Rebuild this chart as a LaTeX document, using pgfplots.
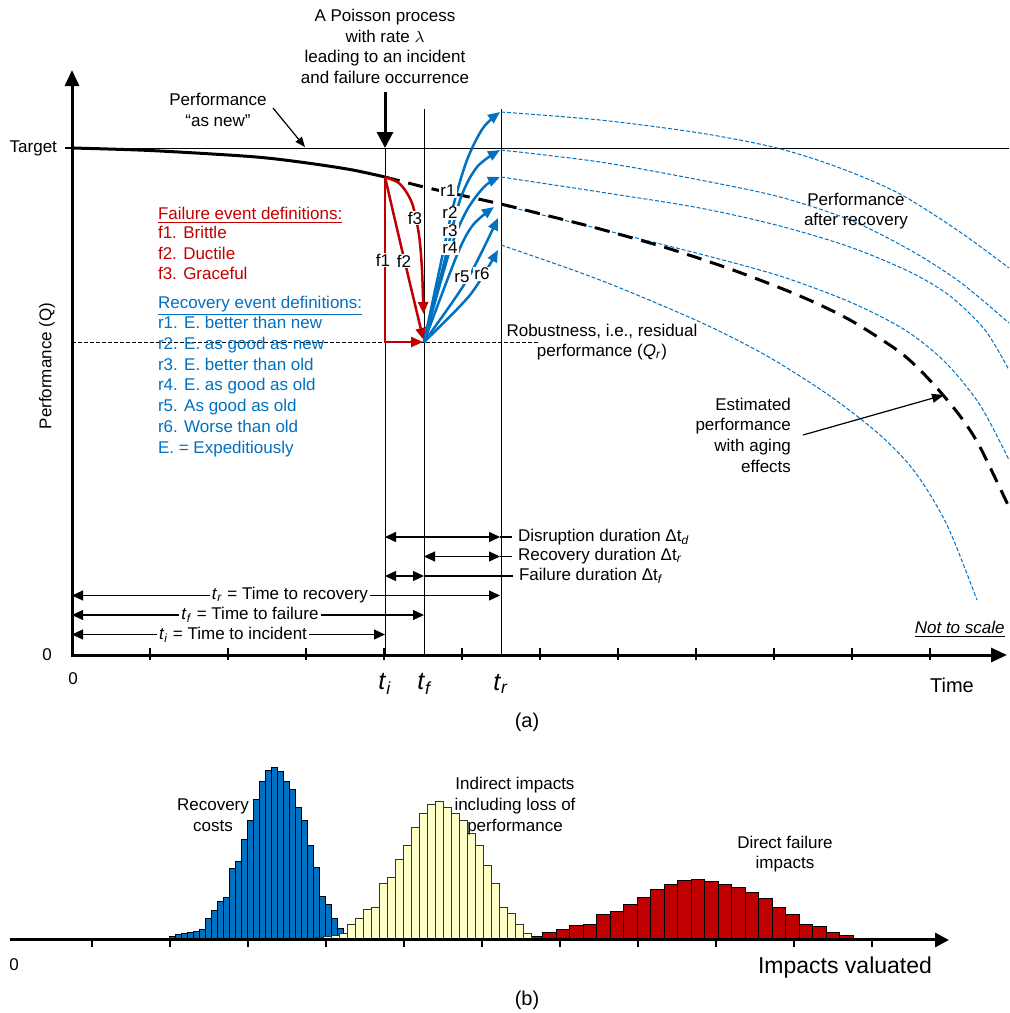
\documentclass[border=0pt]{standalone}
\usepackage{pgfplots}
\pgfplotsset{compat=1.18}
\usepackage{fontspec}
\setmainfont{Liberation Sans}
\usetikzlibrary{arrows.meta}
\definecolor{fred}{HTML}{C00000}
\definecolor{rblue}{HTML}{0070C0}
\definecolor{hyel}{HTML}{FFFFC8}
\begin{document}
\begin{tikzpicture}[font=\fontsize{8.5}{10.35}\selectfont,
  >={Triangle[length=5.5pt,width=5pt]}]
\useasboundingbox (0,0) rectangle (504.5pt,506.5pt);
% ---------------- panel (a), pixel coordinates ----------------
\begin{axis}[at={(0,0)},anchor=south west,scale only axis,width=504.5pt,height=506.5pt,
 xmin=0,xmax=1009,ymin=0,ymax=1013,y dir=reverse,hide axis,clip=false]
% reference lines
\draw[line width=0.5pt] (axis cs:72,148) -- (axis cs:1009,148);
\draw[line width=0.5pt] (axis cs:385,148) -- (axis cs:385,655);
\draw[line width=0.5pt] (axis cs:424,109) -- (axis cs:424,655);
\draw[line width=0.5pt] (axis cs:501,109) -- (axis cs:501,655);
\draw[line width=0.5pt,dash pattern=on 2pt off 1pt] (axis cs:72,342) -- (axis cs:538,342);
% blue dashed performance after recovery
\addplot[rblue,line width=0.5pt,dash pattern=on 2pt off 1pt,smooth] coordinates {(501,112)(600,120)(700,133)(777,148)(840,168)(900,194)(960,232)(1009,268)};
\addplot[rblue,line width=0.5pt,dash pattern=on 2pt off 1pt,smooth] coordinates {(501,150)(600,162)(700,180)(780,197)(850,220)(910,250)(960,282)(1009,323)};
\addplot[rblue,line width=0.5pt,dash pattern=on 2pt off 1pt,smooth] coordinates {(501,177)(600,192)(700,208)(780,226)(850,247)(910,272)(950,296)(985,330)(1009,370)};
\addplot[rblue,line width=0.5pt,dash pattern=on 2pt off 1pt,smooth] coordinates {(501,205)(600,229)(700,254)(780,276)(850,302)(905,330)(945,362)(980,405)(1009,460)};
\addplot[rblue,line width=0.5pt,dash pattern=on 2pt off 1pt,smooth] coordinates {(501,245)(600,280)(700,322)(767,356)(830,396)(880,435)(915,472)(947,525)(977,600)};
% performance as new and aging
\addplot[black,line width=1.5pt,smooth] coordinates {(72,148)(150,150.5)(250,156.5)(300,162)(350,169.5)(385,177)};
\addplot[black,line width=1.5pt,smooth,dash pattern=on 7.5pt off 4.5pt] coordinates {(385,177)(424,187)(460,195)(505,205)(553,217)(600,229)(667,248)(733,270)(800,296)(850,320)(897,350)(920,370)(943,395)(963,420)(980,447)(1008,505)};
% failure paths
\addplot[fred,line width=1.25pt,-{Triangle[length=6pt,width=5pt]}] coordinates {(385,177)(385,342)(423,342)};
\addplot[fred,line width=1.25pt,smooth,-{Triangle[length=6pt,width=5pt]}] coordinates {(385,177)(402,250)(423.5,340)};
\addplot[fred,line width=1.25pt,smooth,-{Triangle[length=6pt,width=5pt]}] coordinates {(385,177)(400,184)(412,203)(419,235)(422,270)(423.5,314)};
% recovery paths
\addplot[rblue,line width=1.25pt,smooth,-{Triangle[length=6pt,width=5pt]}] coordinates {(424,342)(440,267)(453,207)(467,160)(483,128)(500,112)};
\addplot[rblue,line width=1.25pt,smooth,-{Triangle[length=6pt,width=5pt]}] coordinates {(424,342)(443,267)(460,200)(477,167)(500,150)};
\addplot[rblue,line width=1.25pt,smooth,-{Triangle[length=6pt,width=5pt]}] coordinates {(424,342)(450,250)(467,210)(485,186)(500,177)};
\addplot[rblue,line width=1.25pt,smooth,-{Triangle[length=6pt,width=5pt]}] coordinates {(424,342)(457,255)(473,225)(494,207)};
\addplot[rblue,line width=1.25pt,smooth,-{Triangle[length=6pt,width=5pt]}] coordinates {(424,342)(467,280)(498,218)};
\addplot[rblue,line width=1.25pt,smooth,-{Triangle[length=6pt,width=5pt]}] coordinates {(424,342)(470,295)(498,250)};
% labels on paths
\node[fill=white,inner sep=0.6pt] at (axis cs:383,260) {f1};
\node[fill=white,inner sep=0.6pt] at (axis cs:404,261) {f2};
\node[fill=white,inner sep=0.6pt] at (axis cs:415,218) {f3};
\node[fill=white,inner sep=0.6pt] at (axis cs:448,191) {r1};
\node[fill=white,inner sep=0.6pt] at (axis cs:450,213) {r2};
\node[fill=white,inner sep=0.6pt] at (axis cs:450,231) {r3};
\node[fill=white,inner sep=0.6pt] at (axis cs:450,248) {r4};
\node[fill=white,inner sep=0.6pt] at (axis cs:462,277) {r5};
\node[fill=white,inner sep=0.6pt] at (axis cs:482,274) {r6};
% axes
\draw[line width=1.5pt,-{Triangle[length=8pt,width=7pt]}] (axis cs:72,656) -- (axis cs:72,70);
\draw[line width=1.5pt,-{Triangle[length=8pt,width=7pt]}] (axis cs:71,655) -- (axis cs:1007,655);
\pgfplotsinvokeforeach{150,228,306,384,462,540,618,696,774,852,930}{\draw[line width=0.6pt] (axis cs:#1,648) -- (axis cs:#1,660);}
\draw[line width=0.6pt] (axis cs:65,148) -- (axis cs:72,148);
\node[anchor=east] at (axis cs:64,148) {Target};
\node at (axis cs:47,655) {0};
\node at (axis cs:73,679) {0};
\node[rotate=90] at (axis cs:47,366) {Performance (Q)};
% Poisson arrow
\node[align=center] at (axis cs:385,46.5) {A Poisson process\\with rate $\lambda$\\leading to an incident\\and failure occurrence};
\draw[line width=1.5pt,-{Triangle[length=8pt,width=8pt]}] (axis cs:385,92) -- (axis cs:385,148);
\node[align=center] at (axis cs:218,110) {Performance\\“as new”};
\draw[line width=0.6pt,-{Triangle[length=5pt,width=4pt]}] (axis cs:273,108) -- (axis cs:305,147);
% definitions
\node[anchor=base west,text=fred] at (axis cs:151,219) {\underline{Failure event definitions:}};
\node[anchor=base west,text=fred] at (axis cs:151,238) {f1. Brittle};
\node[anchor=base west,text=fred] at (axis cs:151,259) {f2. Ductile};
\node[anchor=base west,text=fred] at (axis cs:151,279) {f3. Graceful};
\node[anchor=base west,text=rblue] at (axis cs:151,308) {\underline{Recovery event definitions:}};
\node[anchor=base west,text=rblue] at (axis cs:151,328) {r1. E. better than new};
\node[anchor=base west,text=rblue] at (axis cs:151,349) {r2. E. as good as new};
\node[anchor=base west,text=rblue] at (axis cs:151,370) {r3. E. better than old};
\node[anchor=base west,text=rblue] at (axis cs:151,390) {r4. E. as good as old};
\node[anchor=base west,text=rblue] at (axis cs:151,411) {r5. As good as old};
\node[anchor=base west,text=rblue] at (axis cs:151,432) {r6. Worse than old};
\node[anchor=base west,text=rblue] at (axis cs:151,453) {E. = Expeditiously};
% annotations
\node[align=center] at (axis cs:602,342) {Robustness, i.e., residual\\performance (\textit{Q}\textsubscript{\textit{r}})};
\node[align=center] at (axis cs:856,211) {Performance\\after recovery};
\node[align=right,anchor=east] at (axis cs:798,435) {Estimated\\performance\\with aging\\effects};
\draw[line width=0.6pt,-{Triangle[length=6pt,width=4.5pt]}] (axis cs:803,435) -- (axis cs:944,395);
\node[anchor=east,inner sep=0pt] at (axis cs:1005,629) {\underline{\textit{Not to scale}}};
% durations
\draw[<->,line width=0.6pt] (axis cs:385,537) -- (axis cs:500,537);
\draw[line width=0.6pt] (axis cs:500,537) -- (axis cs:512,537);
\node[anchor=west] at (axis cs:511,537) {Disruption duration Δt\textsubscript{\textit{d}}};
\draw[<->,line width=0.6pt] (axis cs:424,556.5) -- (axis cs:500,556.5);
\draw[line width=0.6pt] (axis cs:500,556.5) -- (axis cs:512,556.5);
\node[anchor=west] at (axis cs:511,556.5) {Recovery duration Δt\textsubscript{\textit{r}}};
\draw[<->,line width=0.6pt] (axis cs:385,576) -- (axis cs:424,576);
\draw[line width=0.6pt] (axis cs:424,576) -- (axis cs:513,576);
\node[anchor=west] at (axis cs:512,576) {Failure duration Δt\textsubscript{\textit{f}}};
\draw[<->,line width=0.6pt] (axis cs:72,595.5) -- (axis cs:500,595.5);
\node[fill=white,inner sep=1pt] at (axis cs:290,595.5) {\textit{t}\textsubscript{\textit{r}} = Time to recovery};
\draw[<->,line width=0.6pt] (axis cs:72,615) -- (axis cs:424,615);
\node[fill=white,inner sep=1pt] at (axis cs:250,615) {\textit{t}\textsubscript{\textit{f}} = Time to failure};
\draw[<->,line width=0.6pt] (axis cs:72,634.5) -- (axis cs:385,634.5);
\node[fill=white,inner sep=1pt] at (axis cs:233,634.5) {\textit{t}\textsubscript{\textit{i}} = Time to incident};
% time labels
\node at (axis cs:385,684) {\fontsize{12.5}{14}\selectfont\textit{t}\textsubscript{\textit{i}}};
\node at (axis cs:425,684) {\fontsize{12.5}{14}\selectfont\textit{t}\textsubscript{\textit{f}}};
\node at (axis cs:501,684) {\fontsize{12.5}{14}\selectfont\textit{t}\textsubscript{\textit{r}}};
\node at (axis cs:952,685) {\fontsize{10}{12}\selectfont Time};
\node at (axis cs:527,722) {\fontsize{10}{12}\selectfont (a)};
\end{axis}
% ---------------- panel (b) ----------------
\begin{axis}[at={(0,36.5pt)},anchor=south west,scale only axis,width=504.5pt,height=100pt,
 xmin=0,xmax=1009,ymin=0,ymax=200,hide axis,clip=false]
\addplot[ybar interval,fill=rblue,draw=black,line width=0.5pt] coordinates {
(169,3.3)(175,5)(181,6)(187,7)(193,8)(199,10.3)(205,21)(211,29)(217,38.7)(223,42.7)
(229,71.7)(235,78.7)(241,100)(247,119)(253,140)(259,158.7)(265,169.3)(271,172.3)(277,168.7)(283,158.3)
(289,150)(295,132.7)(301,119)(307,94.3)(313,72)(319,43)(325,35)(331,21)(337,11.3)(343,0)};
\addplot[ybar interval,fill=fred,draw=black,line width=0.5pt] coordinates {
(529,3.7)(542.5,7.7)(556,10.3)(569.5,14)(583,15.3)(596.5,25.3)(610,28)(623.5,35.7)(637,42)(650.5,50)
(664,55.7)(677.5,59.7)(691,60.7)(704.5,58.7)(718,55.7)(731.5,52.7)(745,47)(758.5,41.7)(772,32.7)(785.5,25.3)
(799,15.3)(812.5,13)(826,7.7)(839.5,4)(853,0)};
\addplot[ybar interval,fill=hyel,draw=black!80,line width=0.5pt] coordinates {
(307,1)(315,2)(323,3.5)(331,4.3)(339,6.3)(347,15)(355,21)(363,30)(371,32.7)(379,56)
(387,62)(395,80)(403,94.3)(411,112)(419,126.7)(427,135.3)(435,138.3)(443,132.7)(451,126.7)(459,119.3)
(467,106)(475,94.3)(483,74)(491,56)(499,32.7)(507,26.7)(515,15)(523,6)(531,0)};
\draw[line width=1.5pt,-{Triangle[length=7pt,width=7pt]}] (axis cs:10,0) -- (axis cs:949,0);
\pgfplotsinvokeforeach{92,170,248,326,404,482,560,638,716,794,872}{\draw[line width=0.6pt] (axis cs:#1,0) -- (axis cs:#1,-7);}
\node[align=center] at (axis cs:213,125) {Recovery\\costs};
\node[align=center] at (axis cs:515,134) {Indirect impacts\\including loss of\\performance};
\node[align=center] at (axis cs:785,86) {Direct failure\\impacts};
\node at (axis cs:14,-25) {0};
\node at (axis cs:845,-28) {\fontsize{11.5}{13}\selectfont Impacts valuated};
\node at (axis cs:527,-60) {\fontsize{10}{12}\selectfont (b)};
\end{axis}
\end{tikzpicture}
\end{document}
